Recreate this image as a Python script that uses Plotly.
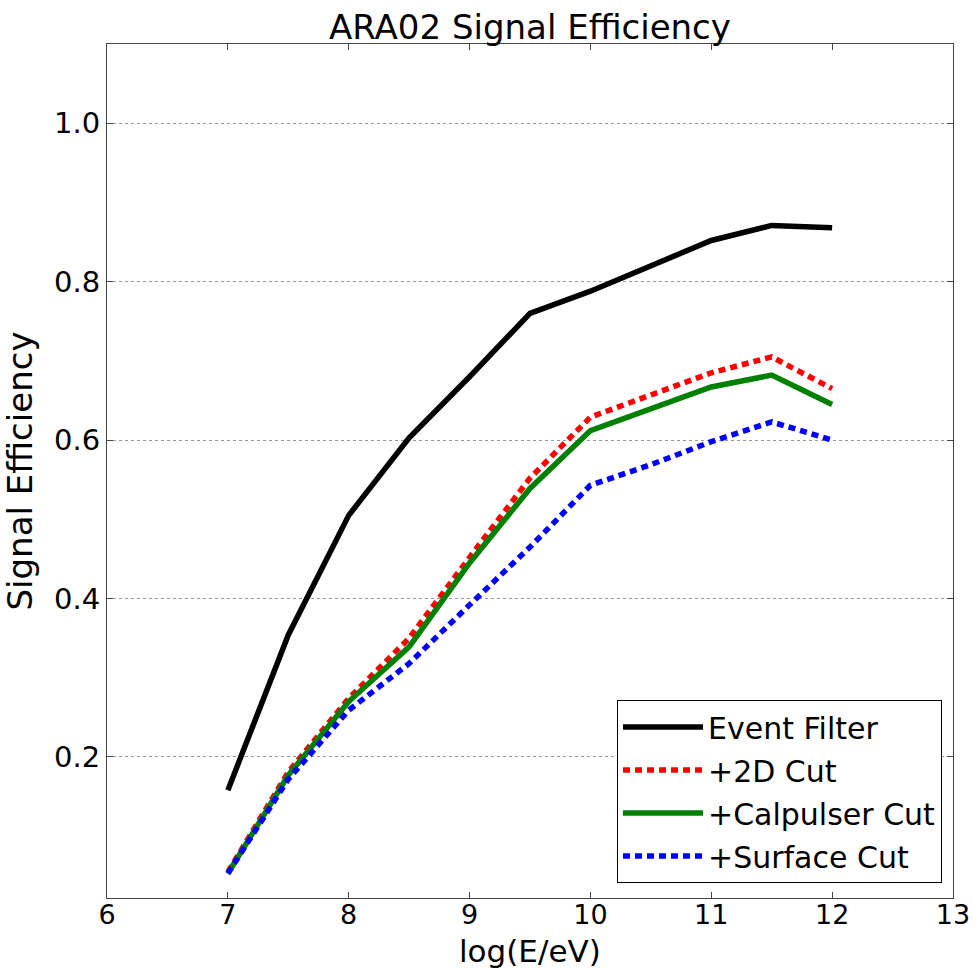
import plotly.graph_objects as go

log_energy = [7, 7.5, 8, 8.5, 9, 9.5, 10, 10.5, 11, 11.5, 12]
event_filter = [0.158, 0.354, 0.505, 0.603, 0.680, 0.760, 0.788, 0.820, 0.852, 0.871, 0.868]
cut_2d = [0.055, 0.181, 0.274, 0.350, 0.452, 0.552, 0.629, 0.657, 0.685, 0.705, 0.665]
cut_calpulser = [0.053, 0.177, 0.270, 0.339, 0.445, 0.539, 0.612, 0.639, 0.667, 0.682, 0.645]
cut_surface = [0.053, 0.172, 0.259, 0.318, 0.392, 0.465, 0.543, 0.569, 0.598, 0.623, 0.600]

series_names = ["Event Filter", "+2D Cut", "+Calpulser Cut", "+Surface Cut"]
series_values = [event_filter, cut_2d, cut_calpulser, cut_surface]
series_colors = ["#000000", "#ff0000", "#008000", "#0000ff"]
series_dash = ["solid", "7px,5px", "solid", "7px,5px"]

x_ticks = [6, 7, 8, 9, 10, 11, 12, 13]
y_ticks = [0.2, 0.4, 0.6, 0.8, 1.0]

FONT = "DejaVu Sans"

fig = go.Figure()
for i, (name, vals, col, dash) in enumerate(zip(series_names, series_values, series_colors, series_dash)):
    fig.add_trace(go.Scatter(
        x=log_energy, y=vals, mode="lines", name=name,
        line=dict(color=col, width=5.5, dash=dash),
        legendgroup=f"g{i}",
    ))

W, H = 976, 969
L, R, T, B = 107, 953, 44, 898

fig.update_layout(
    width=W, height=H,
    margin=dict(l=L, r=W - R, t=T, b=H - B, pad=0, autoexpand=False),
    paper_bgcolor="white", plot_bgcolor="white",
    font=dict(family=FONT, size=28, color="black"),
    title=dict(text="ARA02 Signal Efficiency", x=0.5 * (L + R) / W, xanchor="center",
               y=1 - 27 / H, yanchor="middle", yref="container",
               font=dict(family=FONT, size=34, color="black")),
    showlegend=True,
    legend=dict(
        x=(942 - L) / (R - L), xanchor="right",
        y=(B - 883) / (B - T), yanchor="bottom",
        bgcolor="white", bordercolor="black", borderwidth=1,
        font=dict(family=FONT, size=30, color="black"),
        tracegroupgap=1, itemwidth=80,
    ),
    xaxis=dict(
        range=[6, 13], tickvals=x_ticks, ticktext=[str(v) for v in x_ticks],
        showgrid=False, zeroline=False, automargin=False,
        showline=True, linecolor="#444444", linewidth=1, mirror="ticks",
        ticks="inside", ticklen=6, tickcolor="#444444", ticklabelstandoff=-7,
        tickfont=dict(family=FONT, size=27, color="black"),
    ),
    yaxis=dict(
        range=[0.022, 1.1], tickvals=y_ticks, ticktext=[f"{v:.1f}" for v in y_ticks],
        showgrid=True, gridcolor="#999999", griddash="dot", gridwidth=1,
        zeroline=False, automargin=False,
        showline=True, linecolor="#444444", linewidth=1, mirror="ticks",
        ticks="inside", ticklen=6, tickcolor="#444444",
        tickfont=dict(family=FONT, size=29, color="black"),
        title=dict(text="Signal Efficiency", font=dict(family=FONT, size=34, color="black"), standoff=12),
    ),
    annotations=[dict(
        text="log(E/eV)", showarrow=False,
        xref="paper", x=0.5, xanchor="center",
        yref="paper", y=-(951 - B) / (B - T), yanchor="middle",
        borderpad=0,
        font=dict(family=FONT, size=31, color="black"),
    )],
)

fig.write_html("out.html")
